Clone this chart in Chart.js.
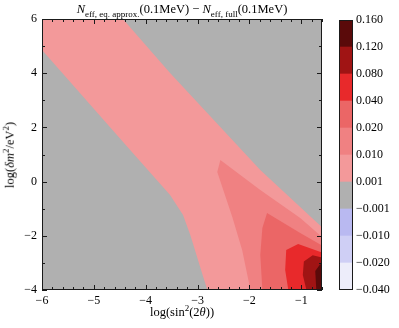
<!DOCTYPE html>
<html>
<head>
<meta charset="utf-8">
<script src="https://cdn.jsdelivr.net/npm/chart.js@4.4.1/dist/chart.umd.min.js"></script>
<style>
  body { margin: 0; background: #fff; }
  #wrap { position: relative; width: 399px; height: 328px; font-family: "Liberation Serif", serif; color: #000; }
  #main { position: absolute; left: 0; top: 0; }
  #cbar { position: absolute; left: 339px; top: 0; }
  .lbl { position: absolute; white-space: nowrap; line-height: 1; }
  #title { left: 182px; top: 3px; transform: translateX(-50%); font-size: 12.5px; }
  #xlab { left: 182px; top: 306px; transform: translateX(-50%); font-size: 12.5px; }
  #ylab { left: 10px; top: 155px; transform: translate(-50%, -50%) rotate(-90deg); font-size: 12.5px; }
  sub, sup { font-size: 72%; line-height: 0; }
</style>
</head>
<body>
<div id="wrap">
  <canvas id="main" width="399" height="328"></canvas>
  <canvas id="cbar" width="60" height="328"></canvas>
  <div class="lbl" id="title"><i>N</i><sub>eff, eq. approx.</sub>(0.1MeV) &minus; <i>N</i><sub>eff, full</sub>(0.1MeV)</div>
  <div class="lbl" id="xlab">log(sin<sup>2</sup>(2<i>θ</i>))</div>
  <div class="lbl" id="ylab">log(<i>δm</i><sup>2</sup>/eV<sup>2</sup>)</div>
</div>
<script>
// axis setup
const xMin = -6, xMax = -0.6;
const yMin = -4, yMax = 6;
const xTicks = [-6, -5, -4, -3, -2, -1];
const yTicks = [-4, -2, 0, 2, 4, 6];

// colour levels (bottom -> top of the colorbar)
const levelLabels = ['−0.040', '−0.020', '−0.010', '−0.001', '0.001', '0.010', '0.020', '0.040', '0.080', '0.120', '0.160'];
const levelColors = ['#ededfa', '#cfcff5', '#b9b9f1', '#b0b0b0', '#f3999a', '#f08182', '#eb6666', '#e8292b', '#a01414', '#5a0a0a'];

// contour regions (each is the area above that level)
const grayX = [-6, -0.6, -0.6, -6];
const grayY = [6, 6, -4, -4];
const lvl001X = [-6, -4.44, -3.53, -1.79, -0.6, -0.6, -2.81, -2.89, -3.14, -3.28, -3.53, -4.30, -6];
const lvl001Y = [6, 6, 4.01, 0.43, -1.68, -4, -4, -3.52, -1.97, -1.23, -0.49, 1.17, 4.86];
const lvl010X = [-2.56, -1.79, -1.02, -0.6, -0.6, -1.98, -2.14, -2.33, -2.62];
const lvl010Y = [0.80, -0.31, -1.34, -2.04, -4, -4, -2.52, -1.31, 0.35];
const lvl020X = [-1.66, -1.02, -0.6, -0.6, -1.75, -1.79, -1.75];
const lvl020Y = [-1.16, -1.90, -2.36, -4, -4, -2.71, -1.71];
const lvl040X = [-1.29, -1.06, -0.6, -0.6, -1.25, -1.31];
const lvl040Y = [-2.52, -2.30, -2.62, -4, -4, -3.26];
const lvl080X = [-0.95, -0.78, -0.6, -0.6, -0.90, -0.97];
const lvl080Y = [-2.95, -2.72, -2.80, -4, -4, -3.45];
const lvl120X = [-0.73, -0.64, -0.6, -0.6, -0.71];
const lvl120Y = [-3.30, -3.06, -3.04, -4, -4];

const fontFamily = '"Liberation Serif", serif';
const minus = v => (v < 0 ? '\u2212' + Math.abs(v) : String(v));

const regions = [
  { xs: grayX, ys: grayY, color: levelColors[3] },
  { xs: lvl001X, ys: lvl001Y, color: levelColors[4] },
  { xs: lvl010X, ys: lvl010Y, color: levelColors[5] },
  { xs: lvl020X, ys: lvl020Y, color: levelColors[6] },
  { xs: lvl040X, ys: lvl040Y, color: levelColors[7] },
  { xs: lvl080X, ys: lvl080Y, color: levelColors[8] },
  { xs: lvl120X, ys: lvl120Y, color: levelColors[9] }
];

const datasets = regions.map((r, i) => ({
  data: r.xs.map((x, k) => ({ x: x, y: r.ys[k] })).concat([{ x: r.xs[0], y: r.ys[0] }]),
  showLine: true,
  fill: 'shape',
  backgroundColor: r.color,
  borderWidth: 0,
  borderColor: 'rgba(0,0,0,0)',
  pointRadius: 0,
  order: regions.length - i
}));

// frame + inward ticks on all four sides, like the matplotlib original
const framePlugin = {
  id: 'frame',
  afterDatasetsDraw(chart) {
    const { ctx, chartArea: a, scales: { x, y } } = chart;
    ctx.save();
    ctx.strokeStyle = '#1a1a1a';
    ctx.lineWidth = 1;
    ctx.beginPath();
    for (let v = xMin; v <= xMax + 1e-9; v += 0.2) {
      const px = Math.round(x.getPixelForValue(v)) + 0.5;
      const len = xTicks.some(t => Math.abs(t - v) < 1e-6) ? 5 : 3;
      ctx.moveTo(px, a.bottom); ctx.lineTo(px, a.bottom - len);
      ctx.moveTo(px, a.top); ctx.lineTo(px, a.top + len);
    }
    for (let v = yMin; v <= yMax; v += 1) {
      const py = Math.round(y.getPixelForValue(v)) + 0.5;
      const len = yTicks.includes(v) ? 5 : 3;
      ctx.moveTo(a.left, py); ctx.lineTo(a.left + len, py);
      ctx.moveTo(a.right, py); ctx.lineTo(a.right - len, py);
    }
    ctx.stroke();
    ctx.strokeRect(a.left + 0.5, a.top + 0.5, a.width - 1, a.height - 1);
    ctx.restore();
  }
};

new Chart(document.getElementById('main'), {
  type: 'scatter',
  data: { datasets: datasets },
  options: {
    responsive: false,
    animation: false,
    layout: { padding: { left: 0, top: 19, right: 77, bottom: 0 } },
    plugins: { legend: { display: false }, tooltip: { enabled: false } },
    scales: {
      x: {
        type: 'linear', min: xMin, max: xMax,
        grid: { display: false, drawTicks: false },
        border: { display: false },
        afterBuildTicks: s => { s.ticks = xTicks.map(v => ({ value: v })); },
        afterFit: s => { s.height = 38; },
        ticks: { callback: v => minus(v), font: { family: fontFamily, size: 12 }, color: '#000', padding: 4, maxRotation: 0, autoSkip: false }
      },
      y: {
        type: 'linear', min: yMin, max: yMax,
        grid: { display: false, drawTicks: false },
        border: { display: false },
        afterBuildTicks: s => { s.ticks = yTicks.map(v => ({ value: v })); },
        afterFit: s => { s.width = 42; },
        ticks: { callback: v => minus(v), font: { family: fontFamily, size: 12 }, color: '#000', padding: 5, autoSkip: false }
      }
    }
  },
  plugins: [framePlugin]
});

// colorbar: ten equal stacked cells
const cbarFrame = {
  id: 'cbarFrame',
  afterDatasetsDraw(chart) {
    const { ctx, chartArea: a } = chart;
    ctx.save();
    ctx.strokeStyle = '#1a1a1a';
    ctx.lineWidth = 1;
    ctx.strokeRect(a.left + 0.5, a.top + 0.5, a.width - 1, a.height - 1);
    ctx.restore();
  }
};

new Chart(document.getElementById('cbar'), {
  type: 'bar',
  data: {
    labels: [''],
    datasets: levelColors.map(c => ({ data: [1], backgroundColor: c, borderWidth: 0, barPercentage: 1, categoryPercentage: 1 }))
  },
  options: {
    responsive: false,
    animation: false,
    layout: { padding: { left: 0, top: 20, right: 0, bottom: 38 } },
    plugins: { legend: { display: false }, tooltip: { enabled: false } },
    scales: {
      x: { stacked: true, display: false },
      y: {
        stacked: true, position: 'right', min: 0, max: levelColors.length,
        grid: { display: false, drawTicks: false },
        border: { display: false },
        afterBuildTicks: s => { s.ticks = levelLabels.map((l, i) => ({ value: i })); },
        afterFit: s => { s.width = 46; },
        ticks: { callback: v => levelLabels[v], font: { family: fontFamily, size: 12 }, color: '#000', padding: 3, autoSkip: false }
      }
    }
  },
  plugins: [cbarFrame]
});
</script>
</body>
</html>
